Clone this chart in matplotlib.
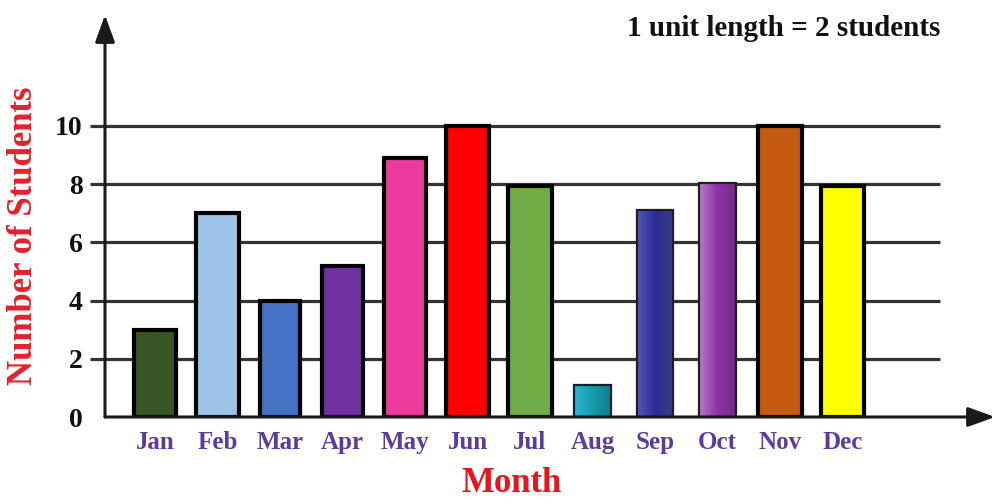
import matplotlib
matplotlib.use("Agg")
import matplotlib.pyplot as plt
import numpy as np
from matplotlib.colors import LinearSegmentedColormap

# ---- data ----
months = ["Jan", "Feb", "Mar", "Apr", "May", "Jun", "Jul", "Aug", "Sep", "Oct", "Nov", "Dec"]
students = [3, 7, 4, 5.2, 8.9, 10, 7.95, 1.1, 7.1, 8.05, 10, 7.95]
y_ticks = [0, 2, 4, 6, 8, 10]
note_text = "1 unit length = 2 students"

# ---- styles ----
bar_colors = ["#375623", "#9DC3E6", "#4472C4", "#7030A0", "#EE3A9E", "#FF0000",
              "#70AD47", "#1A9FB5", "#2E3192", "#8E3A9E", "#C55A11", "#FFFF00"]
gradients = {
    7: ["#2DB8D2", "#189BB0", "#0E7E8E"],
    8: ["#5656B4", "#2A2E96", "#3C3C82"],
    9: ["#B77CC6", "#8E34A4", "#762A88"],
}
bar_widths = [0.67, 0.68, 0.64, 0.67, 0.67, 0.69, 0.69, 0.59, 0.59, 0.59, 0.69, 0.69]

plt.rcParams['font.family'] = ['Liberation Serif', 'DejaVu Serif']
plt.rcParams['font.weight'] = 'bold'

fig = plt.figure(figsize=(9.98, 4.98), dpi=100)
W, H = 998, 498
ax_left, ax_right, ax_bottom, ax_top = 105, 995, 417, 15
ax = fig.add_axes([ax_left / W, 1 - ax_bottom / H, (ax_right - ax_left) / W, (ax_bottom - ax_top) / H])

x = np.arange(len(months))
px_per_unit_x = 62.5
x0_px = 155
xmin = (ax_left - x0_px) / px_per_unit_x
xmax = (ax_right - x0_px) / px_per_unit_x
px_per_unit_y = 29.1
ymax = (ax_bottom - ax_top) / px_per_unit_y
ax.set_xlim(xmin, xmax)
ax.set_ylim(0, ymax)

# gridlines
grid_x0 = (90 - x0_px) / px_per_unit_x
grid_x1 = (940 - x0_px) / px_per_unit_x
ax.hlines(y_ticks[1:], grid_x0, grid_x1, colors="#333333", linewidth=2.3, zorder=1, clip_on=False)

# bars
bars = ax.bar(x, students, width=bar_widths, color=bar_colors, edgecolor="black",
              linewidth=3.0, zorder=3)
for i, cols in gradients.items():
    b = bars[i]
    b.set_linewidth(1.6)
    b.set_edgecolor("#1c1c2e")
    cmap = LinearSegmentedColormap.from_list(f"g{i}", cols)
    grad = np.linspace(0, 1, 256).reshape(1, -1)
    bx, by = b.get_x(), b.get_y()
    bw, bh = b.get_width(), b.get_height()
    im = ax.imshow(grad, cmap=cmap, aspect="auto", extent=(bx, bx + bw, by, by + bh),
                   zorder=2.9, interpolation="bilinear")
    im.set_clip_path(b)
    b.set_facecolor("none")
    b.set_zorder(3.1)
ax.set_xlim(xmin, xmax)
ax.set_ylim(0, ymax)

# axes with arrows
for s in ax.spines.values():
    s.set_visible(False)
arrow_style = "-|>,head_length=1.1,head_width=0.4"
ax.annotate("", xy=(1.0, 0), xytext=(0, 0), xycoords="axes fraction",
            arrowprops=dict(arrowstyle=arrow_style, color="#1a1a1a", lw=2.2,
                            shrinkA=0, shrinkB=0, mutation_scale=15), zorder=4)
ax.annotate("", xy=(0, 1.0), xytext=(0, 0), xycoords="axes fraction",
            arrowprops=dict(arrowstyle=arrow_style, color="#1a1a1a", lw=2.2,
                            shrinkA=0, shrinkB=0, mutation_scale=15), zorder=4)

# ticks
ax.set_yticks(y_ticks)
ax.set_yticklabels([str(v) for v in y_ticks], fontsize=20, fontweight="bold", color="#111111")
ax.tick_params(axis="y", length=0, pad=16)
ax.set_xticks(x)
ax.set_xticklabels(months, fontsize=18, fontweight="bold", color="#5B3C9E")
ax.tick_params(axis="x", length=0, pad=10)

ax.set_xlabel("Month", fontsize=25, fontweight="bold", color="#E8141E")
ax.xaxis.set_label_coords((512 - ax_left) / (ax_right - ax_left), (ax_bottom - 483) / (ax_bottom - ax_top))
ax.xaxis.label.set_va("center")
ax.set_ylabel("Number of Students", fontsize=25, fontweight="bold", color="#E6202A")
ax.yaxis.set_label_coords((24 - ax_left) / (ax_right - ax_left), (ax_bottom - 236) / (ax_bottom - ax_top))
ax.yaxis.label.set_va("center")

fig.text(940 / W, 1 - 28 / H, note_text, ha="right", va="center", fontsize=21,
         fontweight="bold", color="#111111")

fig.savefig("out.png", dpi=100)
